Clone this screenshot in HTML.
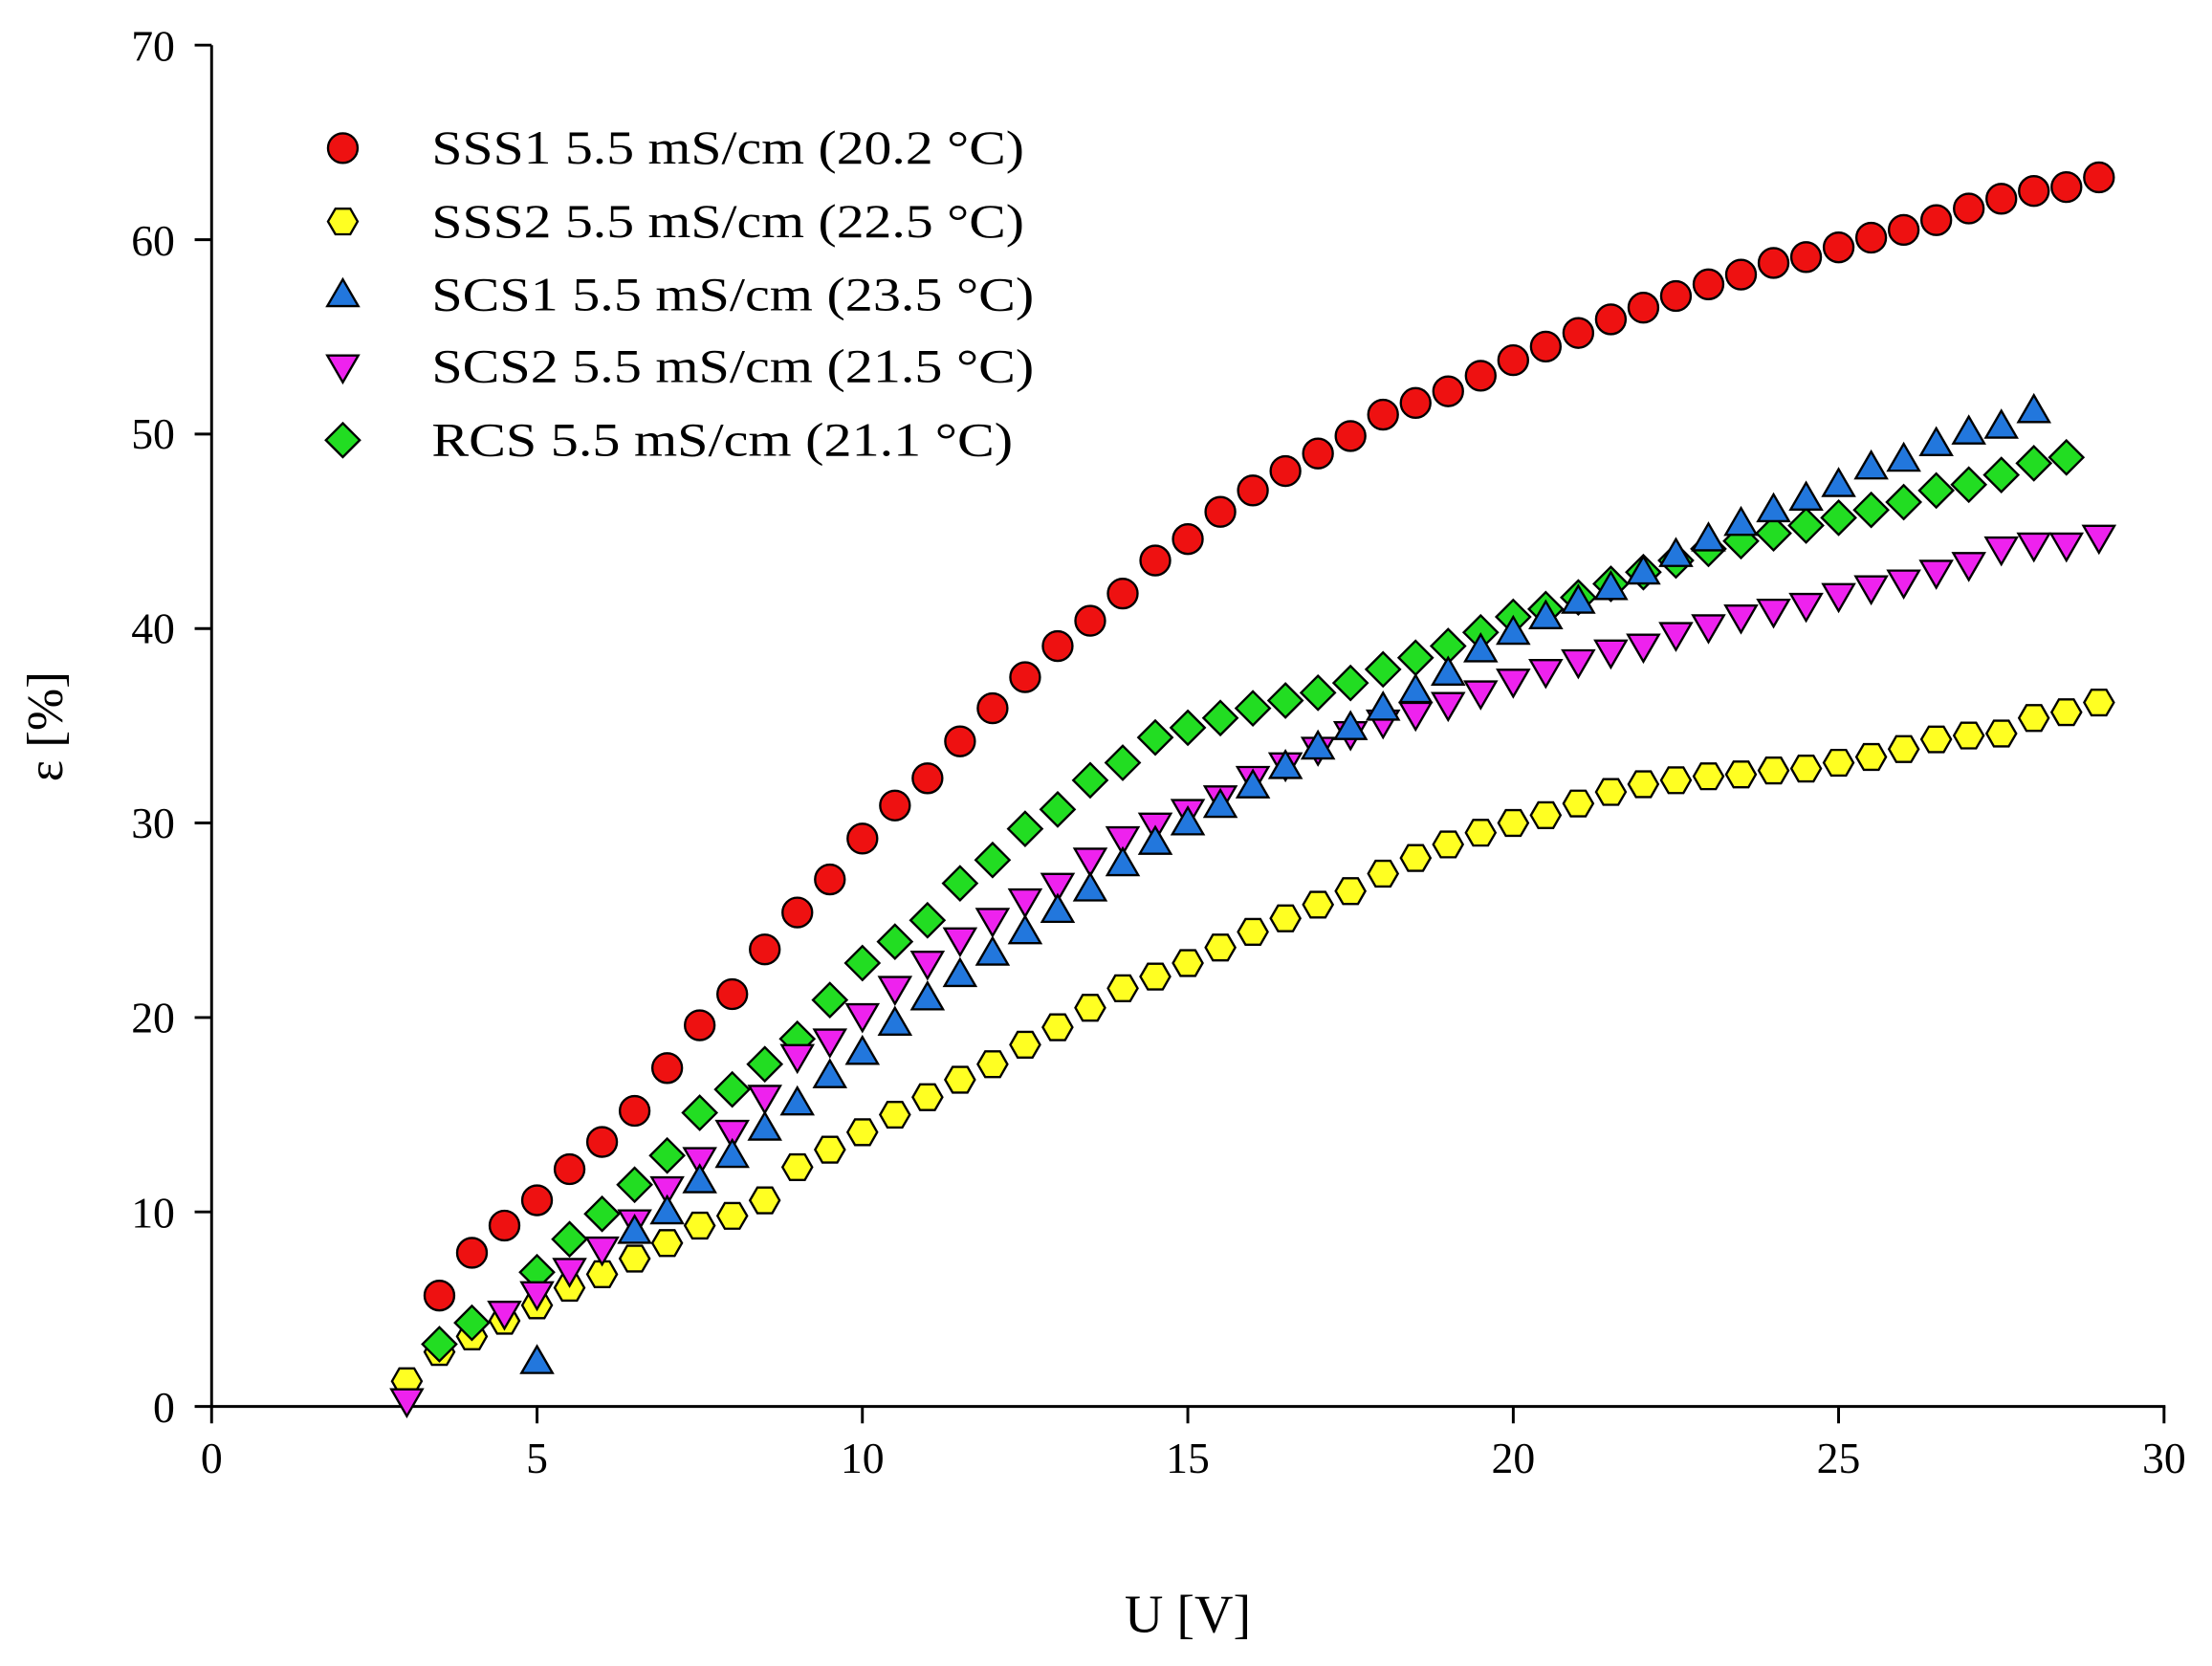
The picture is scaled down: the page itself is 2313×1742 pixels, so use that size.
<!DOCTYPE html>
<html><head><meta charset="utf-8"><style>
html,body{margin:0;padding:0;background:#fff;}
svg{display:block;font-family:"Liberation Serif",serif;}
</style></head><body>
<svg id="s" width="2313" height="1742" viewBox="0 0 1568 1181" preserveAspectRatio="none" xmlns="http://www.w3.org/2000/svg">
<rect width="1568" height="1181" fill="#fff"/>
<g stroke="#000" stroke-width="2" fill="none">
<line x1="150" y1="32" x2="150" y2="998"/>
<line x1="149" y1="997" x2="1535" y2="997"/>
<line x1="150" y1="997" x2="150" y2="1009"/>
<line x1="380.7" y1="997" x2="380.7" y2="1009"/>
<line x1="611.3" y1="997" x2="611.3" y2="1009"/>
<line x1="842" y1="997" x2="842" y2="1009"/>
<line x1="1072.7" y1="997" x2="1072.7" y2="1009"/>
<line x1="1303.3" y1="997" x2="1303.3" y2="1009"/>
<line x1="1534" y1="997" x2="1534" y2="1009"/>
<line x1="138" y1="997" x2="150" y2="997"/>
<line x1="138" y1="859.1" x2="150" y2="859.1"/>
<line x1="138" y1="721.3" x2="150" y2="721.3"/>
<line x1="138" y1="583.4" x2="150" y2="583.4"/>
<line x1="138" y1="445.6" x2="150" y2="445.6"/>
<line x1="138" y1="307.7" x2="150" y2="307.7"/>
<line x1="138" y1="169.9" x2="150" y2="169.9"/>
<line x1="138" y1="32" x2="150" y2="32"/>
</g>
<g font-size="31" fill="#000" text-anchor="middle">
<text x="150" y="1044">0</text><text x="380.7" y="1044">5</text><text x="611.3" y="1044">10</text><text x="842" y="1044">15</text><text x="1072.7" y="1044">20</text><text x="1303.3" y="1044">25</text><text x="1534" y="1044">30</text>
</g>
<g font-size="31" fill="#000" text-anchor="end">
<text x="124" y="1008">0</text><text x="124" y="870">10</text><text x="124" y="732">20</text><text x="124" y="594">30</text><text x="124" y="456">40</text><text x="124" y="318">50</text><text x="124" y="181">60</text><text x="124" y="43">70</text>
</g>
<text x="842" y="1157" font-size="38" text-anchor="middle">U [V]</text>
<text transform="translate(44,515) rotate(-90)" font-size="36" text-anchor="middle">ε [%]</text>
<g id="pts"></g>
<g font-size="34" fill="#000">
<text x="306" y="116" textLength="420" lengthAdjust="spacingAndGlyphs">SSS1 5.5 mS/cm (20.2 °C)</text>
<text x="306" y="168" textLength="420" lengthAdjust="spacingAndGlyphs">SSS2 5.5 mS/cm (22.5 °C)</text>
<text x="306" y="220" textLength="427" lengthAdjust="spacingAndGlyphs">SCS1 5.5 mS/cm (23.5 °C)</text>
<text x="306" y="271" textLength="427" lengthAdjust="spacingAndGlyphs">SCS2 5.5 mS/cm (21.5 °C)</text>
<text x="306" y="323" textLength="412" lengthAdjust="spacingAndGlyphs">RCS 5.5 mS/cm (21.1 °C)</text>
</g>
</svg>
<script>
var X=function(u){return 150+u*1384/30;},Y=function(v){return 997-v*965/70;};
function mk(t,x,y,c){var r=10.5,s;
if(t==0)s='<circle cx="'+x+'" cy="'+y+'" r="'+r+'"';
else if(t==1){var p=[];for(var i=0;i<6;i++){var a=Math.PI/3*i;p.push((x+r*Math.cos(a)).toFixed(1)+','+(y+r*Math.sin(a)).toFixed(1));}s='<polygon points="'+p.join(' ')+'"';}
else if(t==2)s='<polygon points="'+x+','+(y-11)+' '+(x+11)+','+(y+8)+' '+(x-11)+','+(y+8)+'"';
else if(t==3)s='<polygon points="'+x+','+(y+11)+' '+(x+11)+','+(y-8)+' '+(x-11)+','+(y-8)+'"';
else s='<polygon points="'+x+','+(y-12)+' '+(x+12)+','+y+' '+x+','+(y+12)+' '+(x-12)+','+y+'"';
return s+' fill="'+c+'" stroke="#000" stroke-width="1.6"/>';}
function ser(x0,arr){var o=[];for(var i=0;i<arr.length;i++){if(arr[i]!=null)o.push([x0+i*0.5,arr[i]]);}return o;}
var S1=ser(3.5,[5.7,7.9,9.3,10.6,12.2,13.6,15.2,17.4,19.6,21.2,23.5,25.4,27.1,29.2,30.9,32.3,34.2,35.9,37.5,39.1,40.4,41.8,43.5,44.6,46,47.1,48.1,49,49.9,51,51.6,52.2,53,53.8,54.5,55.2,55.9,56.5,57.1,57.7,58.2,58.8,59.1,59.6,60.1,60.5,61,61.6,62.1,62.5,62.7,63.2]);
var S2=ser(3,[1.3,2.8,3.6,4.4,5.2,6.1,6.8,7.6,8.4,9.3,9.8,10.6,12.3,13.2,14.1,15,15.9,16.8,17.6,18.6,19.5,20.5,21.5,22.1,22.8,23.6,24.4,25.1,25.8,26.5,27.4,28.2,28.9,29.5,30,30.4,31,31.6,32,32.2,32.4,32.5,32.7,32.8,33.1,33.4,33.8,34.3,34.5,34.6,35.4,35.7,36.2]);
var C1=ser(5,[2.3,null,null,9,10,11.6,12.9,14.3,15.6,17,18.2,19.7,21,22.2,23.3,24.4,25.5,26.6,27.9,29,30,30.9,31.9,32.9,33.9,34.9,35.9,36.8,37.7,38.9,39.8,40.6,41.4,42.1,42.9,43.8,44.6,45.4,46.1,46.7,47.4,48.3,48.7,49.5,50.1,50.4,51.2]);
var C2=ser(3,[0.3,null,null,4.8,5.8,7,8.1,9.5,11.2,12.7,14.1,15.9,18,18.8,20.1,21.5,22.8,24,25,26,26.8,28.1,29.2,29.9,30.6,31.3,32.3,33,33.8,34.6,35.2,35.6,36.1,36.7,37.3,37.8,38.3,38.8,39.1,39.7,40.1,40.6,40.9,41.2,41.7,42.1,42.4,42.9,43.3,44.1,44.3,44.3,44.7]);
var R=ser(3.5,[3.2,4.3,null,6.9,8.6,9.9,11.4,12.9,15.1,16.3,17.6,18.9,20.9,22.8,23.9,25,26.9,28.1,29.7,30.7,32.2,33.1,34.4,34.9,35.4,35.9,36.3,36.7,37.2,37.9,38.5,39.1,39.8,40.6,41,41.6,42.3,42.9,43.5,44.1,44.5,44.9,45.3,45.7,46.1,46.5,47.1,47.4,47.9,48.5,48.8]);
var h='';
function add(d,t,c){d.forEach(function(p){h+=mk(t,X(p[0]),Y(p[1]),c);});}
add(S2,1,'#ffff22');add(R,4,'#22dd22');add(C2,3,'#ee22ee');add(C1,2,'#2277dd');add(S1,0,'#ee1111');
h+=mk(0,243,105,'#ee1111')+mk(1,243,157,'#ffff22')+mk(2,243,209,'#2277dd')+mk(3,243,260,'#ee22ee')+mk(4,243,312,'#22dd22');
document.getElementById('pts').innerHTML=h;
</script>
</body></html>
